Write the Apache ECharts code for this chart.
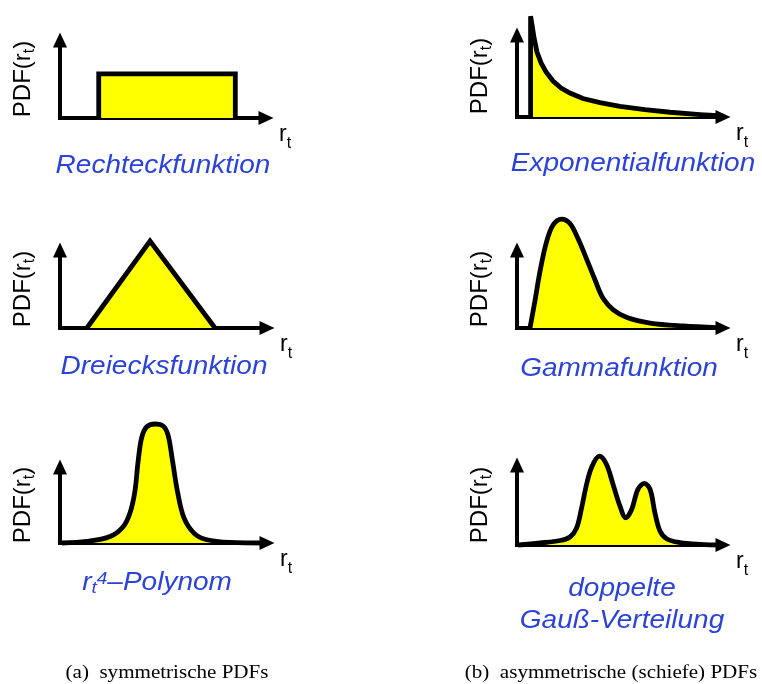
<!DOCTYPE html>
<html><head><meta charset="utf-8">
<script src="https://cdn.jsdelivr.net/npm/echarts@6/dist/echarts.min.js"></script>
<style>html,body{margin:0;padding:0;background:#fff}#c{width:762px;height:684px}</style>
</head><body><div id="c"></div>
<script>
// ---- data (x: 0..100 along r_t axis, y: 0..100 along PDF axis) ----
const rechteckData = [[18.8,0],[18.8,56.5],[85.1,56.5],[85.1,0]];
const dreieckData = [[13.0,0],[43.5,111.5],[74.9,0]];
const polynomData = [[1,0],[13,2],[24.2,8.5],[30.4,21],[33.8,39.5],[36.2,68.4],[37.7,106.6],[39.4,138],[41.8,152.6],[45.9,156.6],[49.8,154],[52.2,142],[54.3,109],[56.8,67],[59.9,33],[64.7,13],[70.5,4.6],[82,0.7],[100,0]];
const exponentialData = [[6.6,0],[6.6,123],[7.3,112.2],[8.3,96.3],[9.7,79.3],[11.7,65.9],[14.1,54.9],[17.5,43.9],[21.4,35.4],[25.7,29.3],[32.0,22.5],[40.3,17.5],[50.0,13.0],[62.1,9.0],[74.3,5.8],[88.8,3.0],[100,1.2]];
const gammaData = [[6.3,0],[8.7,34.6],[11.2,73],[14.3,110],[17.5,132],[21.6,139.7],[25.7,134],[29.6,114.7],[33.7,89],[37.9,61.5],[41.7,38.5],[46.6,23.7],[53.4,13.5],[64.6,6.4],[80.6,2.6],[97.1,0.6]];
const doppelGaussData = [[0.5,0],[11.2,2.5],[20.9,5.6],[25.7,10],[28.9,21],[31.3,45.6],[33.7,75],[36.2,97],[40,111],[43.4,101],[46.6,76],[50,48.5],[52.8,34],[55.6,44],[58.7,69.5],[61.8,77],[64.6,69.5],[67,39.5],[69.4,17.5],[72.8,7.5],[79.1,3],[88.8,0.9],[100,0]];

const seriesData = [rechteckData, dreieckData, polynomData, exponentialData, gammaData, doppelGaussData];
const smoothFlags = [false, false, 0.35, false, 0.35, 0.35];
const captionTexts = ['Rechteckfunktion','Dreiecksfunktion','{m|r}{s|t}{p|4}{m|\u2013Polynom}','Exponentialfunktion','Gammafunktion','doppelte','Gau\u00df-Verteilung'];
const subCaptions = ['(a)  symmetrische PDFs','(b)  asymmetrische (schiefe) PDFs'];
const yName = '{m|PDF(r}{s|t}{m|)}';
const xName = '{m|r}{s|t}';

// ---- layout ----
const panels = [
  {left:60, top:40, width:206, height:78},
  {left:60, top:250, width:207, height:78},
  {left:60, top:467, width:207, height:76},
  {left:517, top:35, width:206, height:82},
  {left:517, top:250, width:206, height:78},
  {left:517, top:465, width:206, height:80}
];
const captionPos = [[163,166],[164,367],[157,588],[633,164],[619,369],[622,589],[622,621]];
const subCaptionPos = [[167,673],[611,673]];

const SANS = '"Liberation Sans", Arial, sans-serif';
const SERIF = '"Liberation Serif", "Times New Roman", serif';
const BLUE = '#2b43d6';

const axisLineCommon = {
  show: true, onZero: false,
  symbol: ['none','triangle'], symbolSize: [14,15],
  lineStyle: {color:'#000', width:4, cap:'square'}
};

const grid = panels.map(p => ({left:p.left, top:p.top, width:p.width, height:p.height, containLabel:false}));
const xAxis = panels.map((p,i) => ({
  gridIndex:i, type:'value', min:0, max:100,
  axisLine: axisLineCommon, axisTick:{show:false}, axisLabel:{show:false}, splitLine:{show:false},
  name: xName, nameLocation:'end', nameGap: 13,
  nameTextStyle: {
    align:'left', verticalAlign:'top', padding:[5,0,0,0],
    rich: {
      m:{fontFamily:SANS, fontSize:23, color:'#000', verticalAlign:'top', lineHeight:23},
      s:{fontFamily:SANS, fontSize:16, color:'#000', lineHeight:41}
    }
  }
}));
const yAxis = panels.map((p,i) => ({
  gridIndex:i, type:'value', min:0, max:100,
  axisLine: axisLineCommon, axisTick:{show:false}, axisLabel:{show:false}, splitLine:{show:false},
  name: yName, nameLocation:'middle', nameRotate:90, nameGap: 11,
  nameTextStyle: {
    rich: {
      m:{fontFamily:SANS, fontSize:24, color:'#000', verticalAlign:'top', lineHeight:24},
      s:{fontFamily:SANS, fontSize:16, color:'#000', lineHeight:38}
    }
  }
}));
const series = seriesData.map((d,i) => ({
  type:'line', xAxisIndex:i, yAxisIndex:i, data:d, symbol:'none', showSymbol:false,
  smooth: smoothFlags[i], clip:false, silent:true, animation:false,
  lineStyle:{color:'#000', width:4.8, join:'miter'},
  areaStyle:{color:'#ffff00', opacity:1}
}));

const graphic = captionTexts.map((t,i) => ({
  type:'text', x:captionPos[i][0], y:captionPos[i][1], scaleX:1.12,
  style: {
    text:t, fill:BLUE, font:'italic 25px ' + SANS, align:'center', verticalAlign:'middle',
    rich: {
      m:{fill:BLUE, fontStyle:'italic', fontSize:25, fontFamily:SANS, verticalAlign:'top', lineHeight:25},
      s:{fill:BLUE, fontStyle:'italic', fontSize:17, fontFamily:SANS, lineHeight:35},
      p:{fill:BLUE, fontStyle:'italic', fontSize:17, fontFamily:SANS, verticalAlign:'top', lineHeight:13}
    }
  }
})).concat(subCaptions.map((t,i) => ({
  type:'text', x:subCaptionPos[i][0], y:subCaptionPos[i][1], scaleX:1.17,
  style:{text:t, fill:'#000', font:'18px ' + SERIF, align:'center', verticalAlign:'middle'}
})));

const chart = echarts.init(document.getElementById('c'), null, {renderer:'canvas'});
chart.setOption({
  animation:false,
  backgroundColor:'#fff',
  grid, xAxis, yAxis, series, graphic
});
</script></body></html>
